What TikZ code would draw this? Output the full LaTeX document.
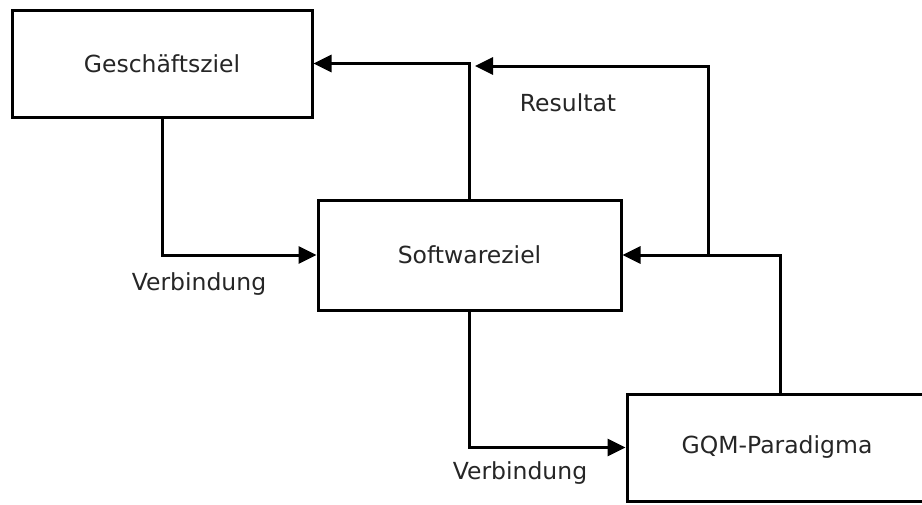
\documentclass[tikz,border=0pt]{standalone}
\usepackage{fontspec}
\setmainfont{DejaVu Sans}
\usetikzlibrary{arrows.meta}
\begin{document}
\begin{tikzpicture}[x=1pt,y=-1pt,
  box/.style={draw=black,line width=3pt,rectangle,inner sep=0pt,text=black!85,font=\fontsize{23.5}{28}\selectfont},
  arr/.style={draw=black,line width=3pt,-{Triangle[length=18pt,width=17pt]}},
  lbl/.style={text=black!85,font=\fontsize{23.5}{28}\selectfont,inner sep=0pt}]
\useasboundingbox (0,0) rectangle (922,504);
\clip (0,0) rectangle (922,504);
\fill[white] (0,0) rectangle (922,504);
\node[box,minimum width=300pt,minimum height=107pt] (g) at (162,63.5) {Geschäftsziel};
\node[box,minimum width=303pt,minimum height=110pt] (s) at (469.5,255) {Softwareziel};
\node[box,minimum width=300pt,minimum height=107pt] (q) at (777,447.5) {GQM-Paradigma};
\coordinate (j) at (708,255);
\coordinate (r) at (475,66);
\draw[arr] (g.south) |- (s.west);
\draw[arr] (s.north) |- (g.east);
\draw[arr] (s.south) |- (q.west);
\draw[arr] ([xshift=3pt]q.north) |- (s.east);
\draw[arr] (j) |- (r);
\node[lbl] (v1) at (199,284) {Verbindung};
\node[lbl] (res) at (568,103) {Resultat};
\node[lbl] (v2) at (520,473) {Verbindung};
\end{tikzpicture}
\end{document}
